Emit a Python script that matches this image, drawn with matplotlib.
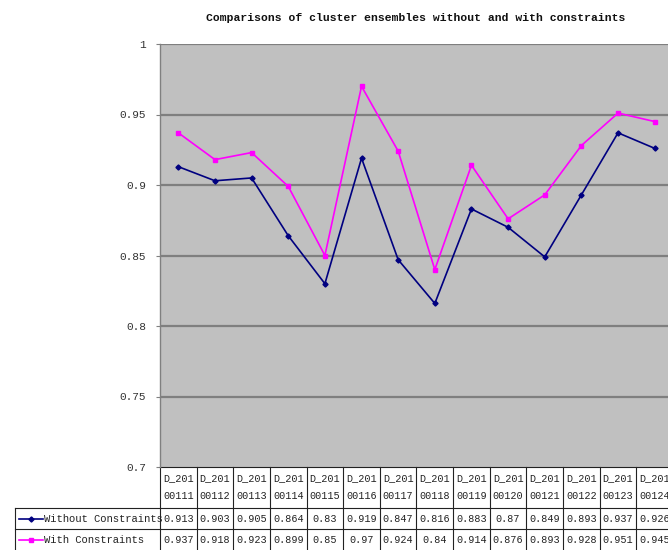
import matplotlib
matplotlib.use("Agg")
import matplotlib.pyplot as plt
from matplotlib.transforms import blended_transform_factory
from matplotlib.lines import Line2D

categories = ["D_20100111", "D_20100112", "D_20100113", "D_20100114", "D_20100115",
              "D_20100116", "D_20100117", "D_20100118", "D_20100119", "D_20100120",
              "D_20100121", "D_20100122", "D_20100123", "D_20100124"]
without_constraints = [0.913, 0.903, 0.905, 0.864, 0.83, 0.919, 0.847, 0.816, 0.883,
                       0.87, 0.849, 0.893, 0.937, 0.926]
with_constraints = [0.937, 0.918, 0.923, 0.899, 0.85, 0.97, 0.924, 0.84, 0.914,
                    0.876, 0.893, 0.928, 0.951, 0.945]
series_names = ["Without Constraints", "With Constraints"]
y_ticks = [0.7, 0.75, 0.8, 0.85, 0.9, 0.95, 1.0]
y_tick_labels = ["0.7", "0.75", "0.8", "0.85", "0.9", "0.95", "1"]
title = "Comparisons of cluster ensembles without and with constraints"

FONT = "Liberation Mono"
W, H = 668, 550
fig = plt.figure(figsize=(W / 100, H / 100), dpi=100)
fig.patch.set_facecolor("white")

# plot area in pixels
left_px, right_px, top_px, bottom_px = 160, 673, 44, 467
ax = fig.add_axes([left_px / W, 1 - bottom_px / H,
                   (right_px - left_px) / W, (bottom_px - top_px) / H])
ax.set_facecolor("#C0C0C0")
n = len(categories)
ax.set_xlim(-0.5, n - 0.5)
ax.set_ylim(0.7, 1.0)

for s in ["top", "right", "bottom"]:
    ax.spines[s].set_visible(False)
ax.spines["left"].set_color("#808080")
ax.spines["left"].set_linewidth(1.0)

ax.set_yticks(y_ticks)
ax.set_yticklabels(y_tick_labels, fontsize=8, family=FONT, color="#333333")
ax.tick_params(axis="y", length=3, color="#808080", pad=7)
ax.set_xticks([])

for yv in y_ticks[1:]:
    ax.axhline(yv, color="#7F7F7F", lw=1.6, zorder=1)

xs = list(range(n))
colors = ["#000080", "#FF00FF"]
markers = ["D", "s"]
msizes = [2.6, 3.0]
for vals, c, m, ms in zip([without_constraints, with_constraints], colors, markers, msizes):
    ax.plot(xs, vals, color=c, lw=1.2, marker=m, ms=ms, mec=c, mfc=c, zorder=3)

fig.text(416 / W, 1 - 18 / H, title, ha="center", va="center",
         fontsize=8.2, family=FONT, weight="bold", color="#111111")

# data table below the plot area
tr = blended_transform_factory(ax.transData, ax.transAxes)
ph = bottom_px - top_px
def yax(px):
    return (bottom_px - px) / ph

y_head_top = yax(467)
y_row1 = yax(508)
y_row2 = yax(529)
y_end = yax(551)
unit = (right_px - left_px) / n
x_lab = -0.5 - (left_px - 15) / unit
lc = "#222222"
lw = 0.8

def hline(y, x0, x1):
    ax.add_line(Line2D([x0, x1], [y, y], transform=tr, color=lc, lw=lw, clip_on=False))

def vline(x, y0, y1):
    ax.add_line(Line2D([x, x], [y0, y1], transform=tr, color=lc, lw=lw, clip_on=False))

hline(y_head_top, -0.5, n - 0.5)
hline(y_row1, x_lab, n - 0.5)
hline(y_row2, x_lab, n - 0.5)
vline(x_lab, y_row1, y_end)
for i in range(n + 1):
    vline(i - 0.5, y_head_top, y_end)

tsize = 7.3
for i, cat in enumerate(categories):
    ax.text(i, yax(478), cat[:5], transform=tr, ha="center", va="center",
            fontsize=tsize, family=FONT, color="#222222")
    ax.text(i, yax(496), cat[5:], transform=tr, ha="center", va="center",
            fontsize=tsize, family=FONT, color="#222222")
    ax.text(i, yax(519), f"{without_constraints[i]:g}", transform=tr, ha="center",
            va="center", fontsize=tsize, family=FONT, color="#222222")
    ax.text(i, yax(540), f"{with_constraints[i]:g}", transform=tr, ha="center",
            va="center", fontsize=tsize, family=FONT, color="#222222")

# legend keys inside the row-label cells
for name, c, m, ms, ypx in zip(series_names, colors, markers, msizes, [519, 540]):
    x0 = x_lab + 4 / unit
    x1 = x_lab + 28 / unit
    ax.add_line(Line2D([x0, x1], [yax(ypx)] * 2, transform=tr, color=c, lw=1.2,
                       clip_on=False))
    ax.add_line(Line2D([(x0 + x1) / 2], [yax(ypx)], transform=tr, color=c, marker=m,
                       ms=ms, mfc=c, mec=c, lw=0, clip_on=False))
    ax.text(x1 + 1 / unit, yax(ypx), name, transform=tr, ha="left", va="center",
            fontsize=tsize + 0.3, family=FONT, color="#222222")

fig.savefig("out.png", dpi=100)
